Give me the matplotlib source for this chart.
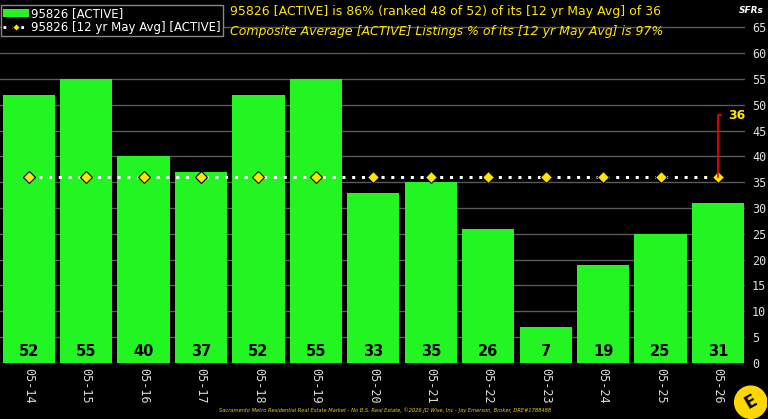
import matplotlib
matplotlib.use("Agg")
from matplotlib import pyplot as plt
from matplotlib.patches import Circle

# данные
years = ['05-14', '05-15', '05-16', '05-17', '05-18', '05-19', '05-20',
         '05-21', '05-22', '05-23', '05-24', '05-25', '05-26']
active = [52, 55, 40, 37, 52, 55, 33, 35, 26, 7, 19, 25, 31]
avg12 = [36] * 13
avg_label = 36
label_top = 48

fig = plt.figure(figsize=(7.68, 4.19), dpi=100, facecolor='black')
ax = fig.add_axes([0.0, 0.134, 0.970, 0.856])
ax.set_facecolor('black')

x = list(range(len(years)))
bars = ax.bar(x, active, width=0.91, color='#22f522', zorder=2, label='95826 [ACTIVE]')
ax.plot(x, avg12, color='white', linestyle=(0, (1, 2.2)), linewidth=2.2, zorder=3)
ax.plot(x, avg12, linestyle='none', marker='D', markersize=6.5,
        markerfacecolor='#ffe600', markeredgecolor='black', markeredgewidth=0.8, zorder=4)
# legend proxy
line_h, = ax.plot([], [], color='white', linestyle=(0, (1, 2.2)), linewidth=2, marker='D',
                  markersize=4, markerfacecolor='#ffe600', markeredgecolor='black',
                  label='95826 [12 yr May Avg] [ACTIVE]')

for i, v in enumerate(active):
    ax.text(i, 2.2, str(v), ha='center', va='center', fontsize=10.5,
            fontweight='bold', color='black', zorder=5)

# red annotation
last = x[-1]
ax.plot([last, last, last + 0.06], [avg12[-1], label_top, label_top],
        color='red', linewidth=1.2, zorder=5)
ax.text(last + 0.17, label_top, str(avg_label), color='#ffe600', fontsize=9,
        fontweight='bold', va='center', ha='left', zorder=6)

ax.set_xlim(-0.5, 12.47)
ax.set_ylim(0, 69.5)
ax.set_yticks(range(0, 70, 5))
ax.grid(axis='y', color='#5a5a5a', linewidth=1, zorder=0)
ax.yaxis.tick_right()
ax.tick_params(axis='y', length=0, pad=5, labelsize=8.5, labelcolor='#dddddd')
ax.set_yticklabels([str(t) for t in range(0, 70, 5)], family='DejaVu Sans Mono')
ax.set_xticks(x)
ax.set_xticklabels(years, rotation=270, family='DejaVu Sans Mono', fontsize=8.5,
                   color='#dddddd')
ax.tick_params(axis='x', length=0, pad=4)
for s in ax.spines.values():
    s.set_visible(False)

fig.text(0.995, 0.985, 'SFRs', color='white', fontsize=6.5,
         fontweight='bold', style='italic', ha='right', va='top')

leg = ax.legend(handles=[bars, line_h], loc='upper left', bbox_to_anchor=(0.0, 1.0),
                frameon=True, facecolor='black', edgecolor='#888888', fontsize=8.5,
                labelcolor='white', borderpad=0.15, handlelength=2.2,
                handletextpad=0.2, labelspacing=0.05, borderaxespad=0.1,
                fancybox=False)
leg.get_frame().set_linewidth(1)
leg.get_frame().set_alpha(1)
leg.set_zorder(10)

fig.text(0.299, 0.972, '95826 [ACTIVE] is 86% (ranked 48 of 52) of its [12 yr May Avg] of 36',
         color='#ffe600', fontsize=9, va='center', ha='left')
fig.text(0.299, 0.925, 'Composite Average [ACTIVE] Listings % of its [12 yr May Avg] is 97%',
         color='#ffe600', fontsize=9, style='italic', va='center', ha='left')

fig.text(0.285, 0.02, 'Sacramento Metro Residential Real Estate Market - No B.S. Real Estate, '
         '\u00a92026 JD Wise, Inc - Jay Emerson, Broker, DRE#1788488',
         color='#e6d000', fontsize=3.7, style='italic', va='center', ha='left')

# logo
lax = fig.add_axes([0.955, 0.0, 0.045, 0.08])
lax.set_axis_off()
lax.set_xlim(0, 1)
lax.set_ylim(0, 1)
lax.set_aspect('equal')
lax.add_patch(Circle((0.5, 0.5), 0.48, color='#ffd700'))
lax.text(0.5, 0.5, 'E', ha='center', va='center', fontsize=12, fontweight='bold',
         color='black', rotation=30)

fig.savefig('out.png', dpi=100, facecolor='black')
